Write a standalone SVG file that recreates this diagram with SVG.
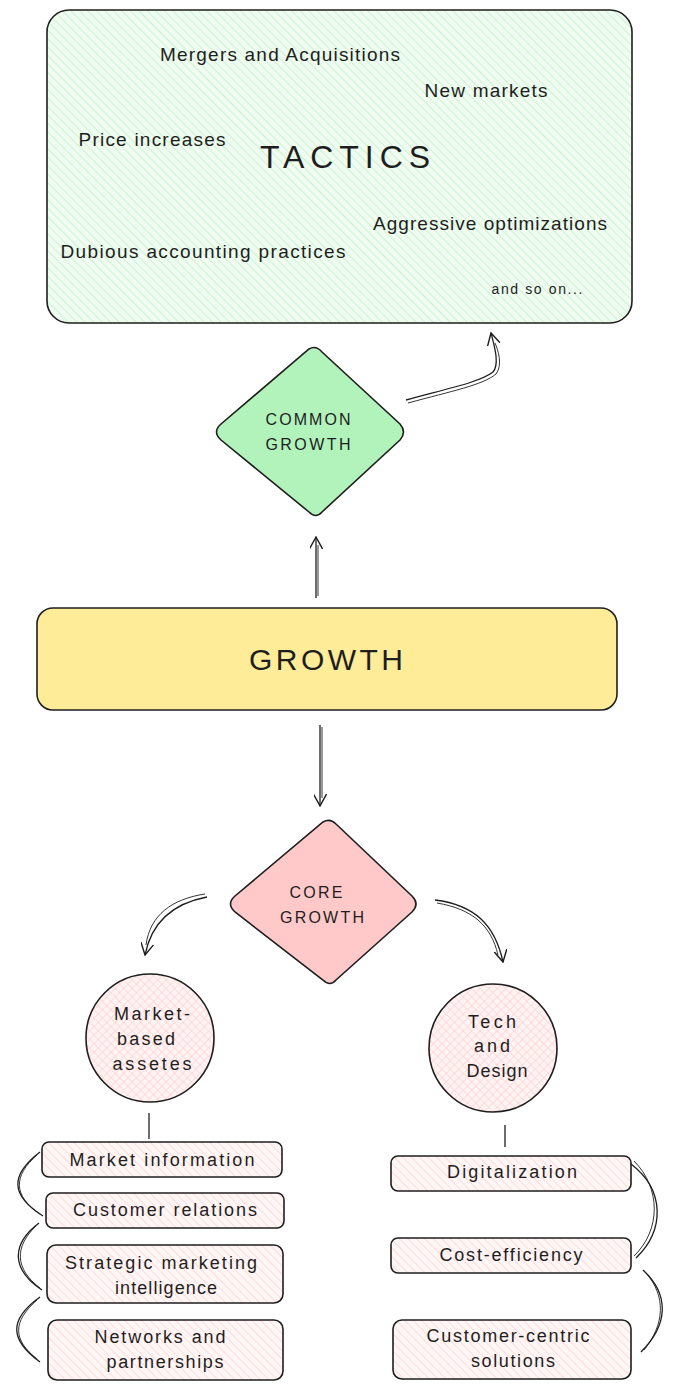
<svg xmlns="http://www.w3.org/2000/svg" width="676" height="1390" viewBox="0 0 676 1390">
<defs>
<pattern id="hGreen" width="6" height="6" patternUnits="userSpaceOnUse" patternTransform="rotate(-45)">
<rect width="6" height="6" fill="#f0fbf1"/>
<line x1="0" y1="0" x2="0" y2="6" stroke="#b2f2bb" stroke-width="1.2"/>
</pattern>
<pattern id="hPink" width="6" height="6" patternUnits="userSpaceOnUse" patternTransform="rotate(-45)">
<rect width="6" height="6" fill="#fff6f6"/>
<line x1="0" y1="0" x2="0" y2="6" stroke="#ffc9c9" stroke-width="1.2"/>
</pattern>
<pattern id="xPink" width="6" height="6" patternUnits="userSpaceOnUse" patternTransform="rotate(-45)">
<rect width="6" height="6" fill="#fff3f3"/>
<line x1="0" y1="0" x2="0" y2="6" stroke="#ffc9c9" stroke-width="1.1"/>
<line x1="0" y1="0" x2="6" y2="0" stroke="#ffc9c9" stroke-width="1.1"/>
</pattern>
<marker id="arr" viewBox="0 0 12 12" refX="11" refY="6" markerWidth="13" markerHeight="13" markerUnits="userSpaceOnUse" orient="auto">
<path d="M0,0 L11,6 L0,12" fill="none" stroke="#1e1e1e" stroke-width="1.3"/>
</marker>
</defs>
<style>
.sk{stroke:#1e1e1e;stroke-width:1.6;}
.t{font-family:"Liberation Sans","DejaVu Sans",sans-serif;fill:#1e1e1e;text-anchor:middle;dominant-baseline:central;}
.c{fill:none;stroke:#1e1e1e;stroke-width:1.3;}
.c2{fill:none;stroke:#1e1e1e;stroke-width:0.9;}
</style>
<rect width="676" height="1390" fill="#ffffff"/>

<g id="tactics">
<rect x="47" y="10" width="585" height="313" rx="22" fill="url(#hGreen)" class="sk"/>
<text class="t" x="280" y="54" font-size="19" textLength="240" lengthAdjust="spacing">Mergers and Acquisitions</text>
<text class="t" x="486" y="90" font-size="19" textLength="123" lengthAdjust="spacing">New markets</text>
<text class="t" x="152" y="139" font-size="19" textLength="147" lengthAdjust="spacing">Price increases</text>
<text class="t" x="345" y="157" font-size="32" textLength="170" lengthAdjust="spacing">TACTICS</text>
<text class="t" x="490" y="223" font-size="19" textLength="234" lengthAdjust="spacing">Aggressive optimizations</text>
<text class="t" x="203" y="251" font-size="19" textLength="285" lengthAdjust="spacing">Dubious accounting practices</text>
<text class="t" x="537" y="289" font-size="14" textLength="91" lengthAdjust="spacing">and so on...</text>
</g>

<g id="common-growth">
<path d="M309,349 Q316,345 322,352 L400,424 Q407,432 400,440 L322,512 Q316,519 309,512 L221,440 Q212,432 221,424 Z" fill="#b2f2bb" class="sk"/>
<text class="t" x="308" y="419" font-size="16" textLength="85" lengthAdjust="spacing">COMMON</text>
<text class="t" x="308" y="444" font-size="16" textLength="85" lengthAdjust="spacing">GROWTH</text>
</g>

<g id="growth">
<rect x="37" y="608" width="580" height="102" rx="16" fill="#ffec99" class="sk"/>
<text class="t" x="326" y="659" font-size="30" textLength="154" lengthAdjust="spacing">GROWTH</text>
</g>

<g id="core-growth">
<path d="M323,822 Q330,818 336,824 L412,896 Q420,904 412,912 L336,980 Q330,987 323,980 L235,912 Q226,904 235,896 Z" fill="#ffc9c9" class="sk"/>
<text class="t" x="316" y="892" font-size="16" textLength="53" lengthAdjust="spacing">CORE</text>
<text class="t" x="322" y="917" font-size="16" textLength="84" lengthAdjust="spacing">GROWTH</text>
</g>

<g id="market-assets">
<circle cx="150" cy="1038" r="64" fill="url(#xPink)" class="sk"/>
<text class="t" x="152" y="1014" font-size="18" textLength="76" lengthAdjust="spacing">Market-</text>
<text class="t" x="146" y="1039" font-size="18" textLength="58" lengthAdjust="spacing">based</text>
<text class="t" x="152" y="1064" font-size="18" textLength="79" lengthAdjust="spacing">assetes</text>
</g>

<g id="tech-design">
<circle cx="493" cy="1048" r="64" fill="url(#xPink)" class="sk"/>
<text class="t" x="492" y="1022" font-size="18" textLength="48" lengthAdjust="spacing">Tech</text>
<text class="t" x="492" y="1046" font-size="18" textLength="36" lengthAdjust="spacing">and</text>
<text class="t" x="497" y="1071" font-size="18" textLength="61" lengthAdjust="spacing">Design</text>
</g>

<g id="market-information">
<rect x="42" y="1142" width="240" height="35" rx="7" fill="url(#hPink)" class="sk"/>
<text class="t" x="162" y="1160" font-size="18" textLength="185" lengthAdjust="spacing">Market information</text>
</g>
<g id="customer-relations">
<rect x="46" y="1193" width="238" height="35" rx="7" fill="url(#hPink)" class="sk"/>
<text class="t" x="165" y="1210" font-size="18" textLength="184" lengthAdjust="spacing">Customer relations</text>
</g>
<g id="strategic-marketing">
<rect x="47" y="1245" width="236" height="58" rx="9" fill="url(#hPink)" class="sk"/>
<text class="t" x="161" y="1263" font-size="18" textLength="192" lengthAdjust="spacing">Strategic marketing</text>
<text class="t" x="166" y="1288" font-size="18" textLength="102" lengthAdjust="spacing">intelligence</text>
</g>
<g id="networks">
<rect x="48" y="1320" width="235" height="60" rx="9" fill="url(#hPink)" class="sk"/>
<text class="t" x="160" y="1337" font-size="18" textLength="131" lengthAdjust="spacing">Networks and</text>
<text class="t" x="165" y="1362" font-size="18" textLength="117" lengthAdjust="spacing">partnerships</text>
</g>

<g id="digitalization">
<rect x="391" y="1156" width="240" height="35" rx="7" fill="url(#hPink)" class="sk"/>
<text class="t" x="512" y="1172" font-size="18" textLength="130" lengthAdjust="spacing">Digitalization</text>
</g>
<g id="cost-efficiency">
<rect x="391" y="1238" width="240" height="35" rx="7" fill="url(#hPink)" class="sk"/>
<text class="t" x="511" y="1255" font-size="18" textLength="143" lengthAdjust="spacing">Cost-efficiency</text>
</g>
<g id="customer-centric">
<rect x="393" y="1320" width="238" height="59" rx="9" fill="url(#hPink)" class="sk"/>
<text class="t" x="508" y="1336" font-size="18" textLength="163" lengthAdjust="spacing">Customer-centric</text>
<text class="t" x="513" y="1361" font-size="18" textLength="84" lengthAdjust="spacing">solutions</text>
</g>

<g id="connectors">
<path class="c" d="M406,400 C450,388 480,382 493,372 C500,364 494,345 491,333" marker-end="url(#arr)"/>
<path class="c2" d="M408,403 C452,391 483,385 496,374 C503,365 498,350 495,343"/>
<path class="c" d="M316,598 L316,537" marker-end="url(#arr)"/>
<path class="c2" d="M318,596 L318,545"/>
<path class="c" d="M320,725 L320,806" marker-end="url(#arr)"/>
<path class="c2" d="M322,727 L322,798"/>
<path class="c" d="M207,897 C175,903 152,920 145,955" marker-end="url(#arr)"/>
<path class="c2" d="M205,894 C172,899 150,915 146,945"/>
<path class="c" d="M435,900 C475,905 495,925 503,962" marker-end="url(#arr)"/>
<path class="c2" d="M437,903 C472,909 491,925 498,955"/>
<path class="c" d="M149,1113 L149,1139"/>
<path class="c" d="M505,1125 L505,1147"/>
<path class="c" d="M40,1152 C10,1175 10,1195 43,1216"/>
<path class="c2" d="M37,1155 C13,1176 13,1196 40,1214"/>
<path class="c" d="M39,1223 C10,1245 12,1270 42,1290"/>
<path class="c2" d="M36,1226 C14,1247 15,1269 40,1288"/>
<path class="c" d="M40,1297 C8,1320 10,1340 40,1362"/>
<path class="c2" d="M37,1300 C12,1322 13,1340 37,1359"/>
<path class="c" d="M631,1164 C665,1190 665,1230 636,1258"/>
<path class="c2" d="M634,1161 C661,1188 661,1230 634,1256"/>
<path class="c" d="M643,1270 C670,1295 668,1325 641,1352"/>
<path class="c2" d="M646,1273 C666,1296 665,1324 644,1350"/>
</g>
</svg>
